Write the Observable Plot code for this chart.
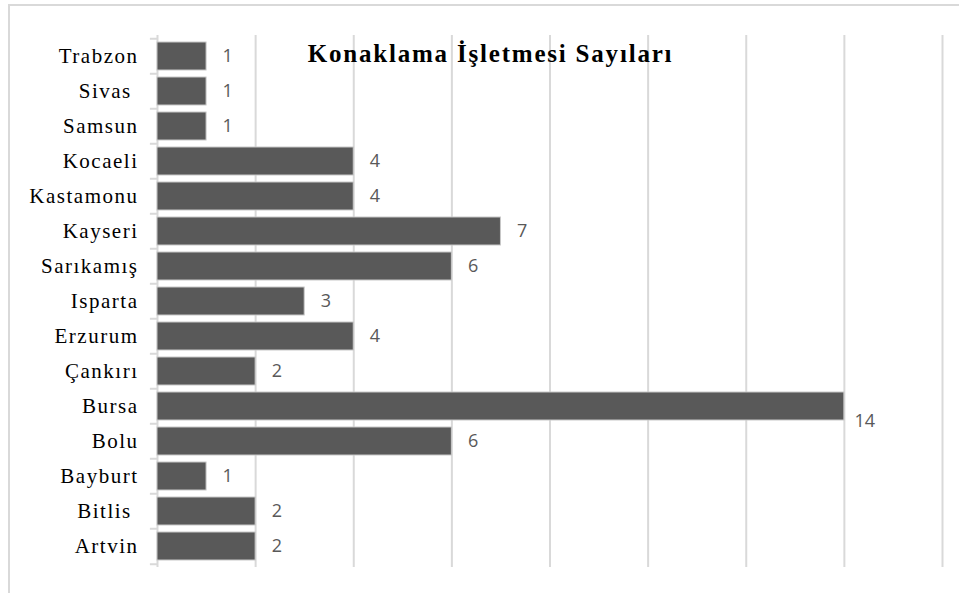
<!DOCTYPE html>
<html>
<head>
<meta charset="utf-8">
<script src="https://cdn.jsdelivr.net/npm/d3@7"></script>
<script src="https://cdn.jsdelivr.net/npm/@observablehq/plot@0.6"></script>
<style>
  html, body { margin: 0; padding: 0; background: #fff; overflow: hidden; }
  #wrap { position: relative; width: 959px; height: 593px; }
  #frame { position: absolute; left: 8px; top: 4px; width: 1000px; height: 700px;
           border-top: 2px solid #d9d9d9; border-left: 2px solid #d9d9d9; }
  #title { position: absolute; left: 0; top: 41px; width: 981px; text-align: center;
           font-family: "Liberation Serif", "Times New Roman", serif; font-weight: bold;
           font-size: 25px; line-height: 25px; letter-spacing: 1.8px; color: #000; pointer-events: none; }
  #chart { position: absolute; left: 0; top: 0; }
  #chart svg [aria-label="y-axis tick label"] { letter-spacing: 1.5px; }
</style>
</head>
<body>
<div id="wrap">
  <div id="frame"></div>
  <div id="chart"></div>
  <div id="title"></div>
</div>
<script>
const chartTitle = "Konaklama İşletmesi Sayıları";
const cities = ["Trabzon","Sivas","Samsun","Kocaeli","Kastamonu","Kayseri","Sarıkamış","Isparta","Erzurum","Çankırı","Bursa","Bolu","Bayburt","Bitlis","Artvin"];
const cityLabels = ["Trabzon","Sivas\u00a0","Samsun","Kocaeli","Kastamonu","Kayseri","Sarıkamış","Isparta","Erzurum","Çankırı","Bursa","Bolu","Bayburt","Bitlis\u00a0","Artvin"];
const counts = [1,1,1,4,4,7,6,3,4,2,14,6,1,2,2];
const gridValues = [2,4,6,8,10,12,14,16];

const data = cities.map((c, i) => ({city: c, label: cityLabels[i], value: counts[i]}));
const labelOf = new Map(data.map(d => [d.city, d.label]));
const maxValue = d3.max(counts);

const W = 959, H = 593;
const mTop = 35, mBottom = 26, mLeft = 157, mRight = 17;
const step = (H - mTop - mBottom) / cities.length;

document.getElementById("title").textContent = chartTitle;

const plot = Plot.plot({
  width: W,
  height: H,
  marginTop: mTop,
  marginBottom: mBottom,
  marginLeft: mLeft,
  marginRight: mRight,
  style: {background: "transparent", overflow: "visible"},
  x: {domain: [0, 16], axis: null},
  y: {domain: cities, paddingInner: 0.2, paddingOuter: 0.1, label: null},
  marks: [
    Plot.ruleX(gridValues, {stroke: "#d9d9d9", strokeWidth: 2}),
    Plot.ruleX([0], {stroke: "#d9d9d9", strokeWidth: 2}),
    Plot.ruleY(cities, {y: d => d, x1: -0.145, x2: 0, dy: -step / 2, stroke: "#d9d9d9", strokeWidth: 2}),
    Plot.ruleY(cities.slice(-1), {y: d => d, x1: -0.145, x2: 0, dy: step / 2, stroke: "#d9d9d9", strokeWidth: 2}),
    Plot.barX(data, {y: "city", x: "value", fill: "#595959", stroke: "#c8c8c8", strokeWidth: 1}),
    Plot.text(data.filter(d => d.value < maxValue), {
      y: "city", x: "value", text: d => String(d.value), textAnchor: "start", dx: 16,
      fontFamily: "Open Sans", fontSize: 18, fill: "#595959"
    }),
    Plot.text(data.filter(d => d.value === maxValue), {
      y: "city", x: "value", text: d => String(d.value), textAnchor: "start", dx: 10, dy: 15,
      fontFamily: "Open Sans", fontSize: 18, fill: "#595959"
    }),
    Plot.axisY({
      tickSize: 0, tickPadding: 19, label: null,
      tickFormat: d => labelOf.get(d),
      fontFamily: "Liberation Serif", fontSize: 21, fill: "#000"
    })
  ]
});
document.getElementById("chart").appendChild(plot);
</script>
</body>
</html>
